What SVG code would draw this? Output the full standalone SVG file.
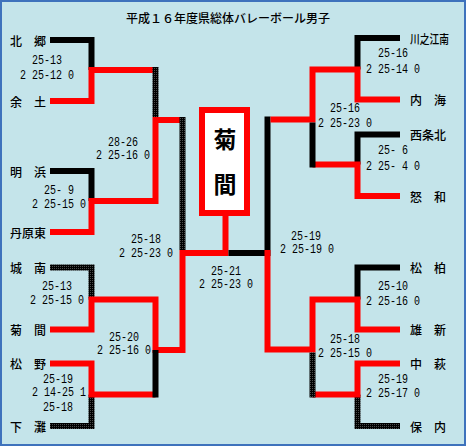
<svg xmlns="http://www.w3.org/2000/svg" width="466" height="446" viewBox="0 0 466 446">
<defs>
<pattern id="chk" patternUnits="userSpaceOnUse" width="2" height="2">
<rect width="2" height="2" fill="#000"/>
<rect x="0" y="0" width="1" height="1" fill="#4a4a4a"/>
</pattern>
<style>
.bg{fill:#C4E4EA;stroke:#3E72BC;stroke-width:2}
.k{fill:none;stroke:#000;stroke-width:6;stroke-linejoin:miter;stroke-linecap:butt}
.d{fill:none;stroke:url(#chk);stroke-width:6;stroke-linejoin:miter;stroke-linecap:butt}
.r{fill:none;stroke:#FF0000;stroke-width:6;stroke-linejoin:miter;stroke-linecap:butt}
.nm{font-family:"Noto Sans CJK JP","Liberation Sans",sans-serif;font-size:12px;font-weight:500;fill:#000;dominant-baseline:central}
.sc{font-family:"Liberation Mono","DejaVu Sans Mono",monospace;font-size:12px;fill:#000;dominant-baseline:central}
.ttl{font-family:"Noto Sans CJK JP","Liberation Sans",sans-serif;font-size:12px;font-weight:500;fill:#000;dominant-baseline:central}
.win{font-family:"Noto Sans CJK JP","Liberation Sans",sans-serif;font-size:23px;font-weight:bold;fill:#000;text-anchor:middle;dominant-baseline:central}
</style>
</defs>
<rect class="bg" x="1" y="1" width="464" height="444"/>
<text id="title" class="ttl" x="126" y="17">平成１６年度県総体バレーボール男子</text>

<g id="connectors">
<!-- left upper -->
<path class="k" d="M50,40 H91.5 V70"/>
<path class="r" d="M50,101 H91.5 V70 H155.5"/>
<path class="k" d="M50,171 H91.5 V201"/>
<path class="r" d="M50,232 H91.5 V201 H155.5 V120 H182.5"/>
<path class="d" d="M155.5,67 V117"/>
<path class="d" d="M182.5,117 V250"/>
<!-- left lower -->
<path class="d" d="M50,267.5 H91.5 V299.5"/>
<path class="d" d="M50,426 H91.5 V394.5"/>
<path class="r" d="M50,363.5 H91.5 V394.5 H155.5"/>
<path class="r" d="M50,329.5 H91.5 V299.5 H155.5 V350 H182.5 V253 H225.5 V213"/>
<path class="k" d="M155.5,350 V397.5"/>
<!-- center -->
<path class="k" d="M228.5,253 H267.5 V116.5"/>
<!-- right upper -->
<path class="k" d="M400,38 H357.5 V69.5"/>
<path class="k" d="M400,134.5 H357.5 V164.5"/>
<path class="r" d="M400,196 H357.5 V164.5 H312.5"/>
<path class="r" d="M400,99.5 H357.5 V69.5 H312.5 V119.5 H270.5"/>
<path class="k" d="M312.5,122.5 V167.5"/>
<!-- right lower -->
<path class="k" d="M400,267.5 H357.5 V299.5"/>
<path class="d" d="M400,426 H357.5 V394.5"/>
<path class="r" d="M400,363.5 H357.5 V394.5 H312.5"/>
<path class="r" d="M400,329.5 H357.5 V299.5 H312.5 V349.5 H267.5 V250"/>
<path class="d" d="M312.5,352.5 V397.5"/>
</g>

<g id="champion">
<rect x="202" y="110" width="45" height="103" fill="#fff" stroke="#FF0000" stroke-width="6"/>
<text class="win" x="225" y="138">菊</text>
<text class="win" x="225" y="183">間</text>
</g>

<g id="teams-left">
<g id="t-hokugo"><text class="nm" x="10" y="40">北　郷</text></g>
<g id="t-yodo"><text class="nm" x="10" y="101">余　土</text></g>
<g id="t-akehama"><text class="nm" x="10" y="171">明　浜</text></g>
<g id="t-tanbarahigashi"><text class="nm" x="10" y="232">丹原東</text></g>
<g id="t-jonan"><text class="nm" x="10" y="267.5">城　南</text></g>
<g id="t-kikuma"><text class="nm" x="10" y="329.5">菊　間</text></g>
<g id="t-matsuno"><text class="nm" x="10" y="363.5">松　野</text></g>
<g id="t-shimonada"><text class="nm" x="10" y="426">下　灘</text></g>
</g>
<g id="teams-right">
<g id="t-kawanoeminami"><text class="nm" x="410" y="38" textLength="39" lengthAdjust="spacingAndGlyphs">川之江南</text></g>
<g id="t-uchiumi"><text class="nm" x="410" y="99.5">内　海</text></g>
<g id="t-saijokita"><text class="nm" x="410" y="134.5">西条北</text></g>
<g id="t-nuwa"><text class="nm" x="410" y="196">怒　和</text></g>
<g id="t-shohaku"><text class="nm" x="410" y="267.5">松　柏</text></g>
<g id="t-yushin"><text class="nm" x="410" y="329.5">雄　新</text></g>
<g id="t-nakahagi"><text class="nm" x="410" y="363.5">中　萩</text></g>
<g id="t-honai"><text class="nm" x="410" y="426">保　内</text></g>
</g>

<g id="scores" xml:space="preserve">
<text class="sc" x="32" y="61" textLength="30" lengthAdjust="spacingAndGlyphs">25-13</text>
<text class="sc" x="20" y="76" textLength="54" lengthAdjust="spacingAndGlyphs">2 25-12 0</text>
<text class="sc" x="44" y="191" textLength="30" lengthAdjust="spacingAndGlyphs">25- 9</text>
<text class="sc" x="32" y="205" textLength="54" lengthAdjust="spacingAndGlyphs">2 25-15 0</text>
<text class="sc" x="42" y="287" textLength="30" lengthAdjust="spacingAndGlyphs">25-13</text>
<text class="sc" x="30" y="301" textLength="54" lengthAdjust="spacingAndGlyphs">2 25-15 0</text>
<text class="sc" x="43" y="380" textLength="30" lengthAdjust="spacingAndGlyphs">25-19</text>
<text class="sc" x="32" y="393" textLength="54" lengthAdjust="spacingAndGlyphs">2 14-25 1</text>
<text class="sc" x="43" y="408" textLength="30" lengthAdjust="spacingAndGlyphs">25-18</text>
<text class="sc" x="108" y="142.5" textLength="30" lengthAdjust="spacingAndGlyphs">28-26</text>
<text class="sc" x="96" y="156" textLength="54" lengthAdjust="spacingAndGlyphs">2 25-16 0</text>
<text class="sc" x="109" y="338" textLength="30" lengthAdjust="spacingAndGlyphs">25-20</text>
<text class="sc" x="97" y="351" textLength="54" lengthAdjust="spacingAndGlyphs">2 25-16 0</text>
<text class="sc" x="131" y="240" textLength="30" lengthAdjust="spacingAndGlyphs">25-18</text>
<text class="sc" x="119" y="254" textLength="54" lengthAdjust="spacingAndGlyphs">2 25-23 0</text>
<text class="sc" x="211" y="272" textLength="30" lengthAdjust="spacingAndGlyphs">25-21</text>
<text class="sc" x="199" y="285" textLength="54" lengthAdjust="spacingAndGlyphs">2 25-23 0</text>
<text class="sc" x="291" y="237" textLength="30" lengthAdjust="spacingAndGlyphs">25-19</text>
<text class="sc" x="280" y="250" textLength="54" lengthAdjust="spacingAndGlyphs">2 25-19 0</text>
<text class="sc" x="330" y="109" textLength="30" lengthAdjust="spacingAndGlyphs">25-16</text>
<text class="sc" x="318" y="124" textLength="54" lengthAdjust="spacingAndGlyphs">2 25-23 0</text>
<text class="sc" x="330" y="340" textLength="30" lengthAdjust="spacingAndGlyphs">25-18</text>
<text class="sc" x="318" y="354" textLength="54" lengthAdjust="spacingAndGlyphs">2 25-15 0</text>
<text class="sc" x="378" y="54" textLength="30" lengthAdjust="spacingAndGlyphs">25-16</text>
<text class="sc" x="366" y="70" textLength="54" lengthAdjust="spacingAndGlyphs">2 25-14 0</text>
<text class="sc" x="378" y="151" textLength="30" lengthAdjust="spacingAndGlyphs">25- 6</text>
<text class="sc" x="366" y="167" textLength="54" lengthAdjust="spacingAndGlyphs">2 25- 4 0</text>
<text class="sc" x="378" y="287" textLength="30" lengthAdjust="spacingAndGlyphs">25-10</text>
<text class="sc" x="366" y="302" textLength="54" lengthAdjust="spacingAndGlyphs">2 25-16 0</text>
<text class="sc" x="378" y="380" textLength="30" lengthAdjust="spacingAndGlyphs">25-19</text>
<text class="sc" x="366" y="394" textLength="54" lengthAdjust="spacingAndGlyphs">2 25-17 0</text>
</g>
</svg>
